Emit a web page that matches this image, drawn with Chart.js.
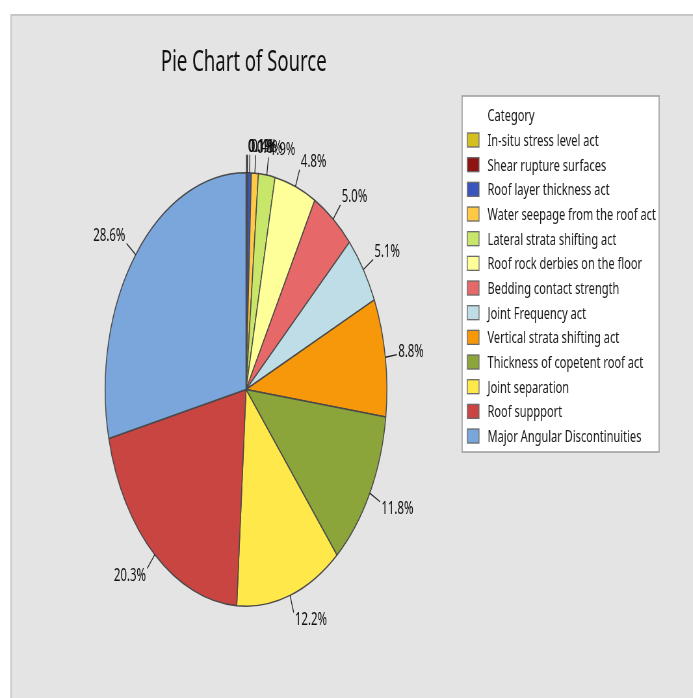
<!DOCTYPE html>
<html>
<head>
<meta charset="utf-8">
<script src="https://cdn.jsdelivr.net/npm/chart.js@4/dist/chart.umd.min.js"></script>
<style>
  html, body { margin: 0; padding: 0; background: #fff; overflow: hidden; }
  /* the reference is squeezed sideways, so draw wide and squeeze the whole box */
  #wrap { position: absolute; left: 0; top: 0; width: 1066px; height: 698px;
          transform: scaleX(0.65); transform-origin: 0 0; }
</style>
</head>
<body>
<div id="wrap"><canvas id="pie-chart"></canvas></div>
<script>
var categories = [
  'In-situ stress level act',
  'Shear rupture surfaces',
  'Roof layer thickness act',
  'Water seepage from the roof act',
  'Lateral strata shifting act',
  'Roof rock derbies on the floor',
  'Bedding contact strength',
  'Joint Frequency act',
  'Vertical strata shifting act',
  'Thickness of copetent roof act',
  'Joint separation',
  'Roof suppport',
  'Major Angular Discontinuities'
];
var percents = [0.1, 0.1, 0.4, 0.8, 1.9, 4.8, 5.0, 5.1, 8.8, 11.8, 12.2, 20.3, 28.6];
var sliceColors = ['#d4bf21', '#8e1414', '#3b55be', '#ffc845', '#c8e66a', '#ffff99',
                   '#e66868', '#bedde6', '#f7980a', '#8ca53a', '#ffe84a', '#c84542', '#7aa6db'];
var chartTitle = 'Pie Chart of Source';
var legendTitle = 'Category';

var FONT = '"Noto Sans", "DejaVu Sans", sans-serif';

// grey panel behind everything
var panelPlugin = {
  id: 'panel',
  beforeDraw: function(chart) {
    var ctx = chart.ctx;
    ctx.save();
    ctx.fillStyle = '#ffffff';
    ctx.fillRect(0, 0, chart.width, chart.height);
    ctx.fillStyle = '#e4e4e4';
    ctx.fillRect(17, 14, chart.width - 17, chart.height - 14);
    ctx.strokeStyle = '#c6c6c6';
    ctx.lineWidth = 2;
    ctx.beginPath();
    ctx.moveTo(17, chart.height);
    ctx.lineTo(17, 15);
    ctx.lineTo(chart.width, 15);
    ctx.stroke();
    ctx.restore();
  }
};

// title, slice labels with leader lines, legend box
var decorPlugin = {
  id: 'decor',
  afterDraw: function(chart) {
    var ctx = chart.ctx;
    ctx.save();

    ctx.fillStyle = '#111';
    ctx.font = '28.5px ' + FONT;
    ctx.textAlign = 'center';
    ctx.textBaseline = 'alphabetic';
    ctx.fillText(chartTitle, 375, 71);

    // slice labels
    var meta = chart.getDatasetMeta(0);
    ctx.font = '17.5px ' + FONT;
    ctx.strokeStyle = '#222';
    ctx.lineWidth = 1.3;
    meta.data.forEach(function(arc, i) {
      var p = arc.getProps(['x', 'y', 'startAngle', 'endAngle', 'outerRadius'], true);
      var mid = (p.startAngle + p.endAngle) / 2;
      var c = Math.cos(mid), s = Math.sin(mid);
      var x0 = p.x + c * p.outerRadius, y0 = p.y + s * p.outerRadius;
      var x1 = p.x + c * (p.outerRadius + 18), y1 = p.y + s * (p.outerRadius + 18);
      ctx.beginPath();
      ctx.moveTo(x0, y0);
      ctx.lineTo(x1, y1);
      ctx.stroke();
      // near the sides the text sits level with the line end, above/below it further round
      var k = Math.max(-1, Math.min(1, s * 2.5));
      ctx.textAlign = c >= 0 ? 'left' : 'right';
      ctx.textBaseline = 'middle';
      ctx.fillText(percents[i].toFixed(1) + '%', x1 + (c >= 0 ? 2 : -2), y1 + k * 7.5);
    });

    // legend
    var lx = 711, ly = 96, lw = 303, lh = 356;
    ctx.fillStyle = '#ffffff';
    ctx.fillRect(lx, ly, lw, lh);
    ctx.strokeStyle = '#9a9a9a';
    ctx.lineWidth = 1.5;
    ctx.strokeRect(lx, ly, lw, lh);

    ctx.font = '17px ' + FONT;
    ctx.textAlign = 'left';
    ctx.textBaseline = 'middle';
    ctx.fillStyle = '#1a1a1a';
    ctx.fillText(legendTitle, 750, 116);
    categories.forEach(function(name, i) {
      var cy = 140 + i * 24.67;
      ctx.fillStyle = sliceColors[i];
      ctx.fillRect(719, cy - 7, 18, 14);
      ctx.strokeStyle = '#6a6a6a';
      ctx.lineWidth = 1.3;
      ctx.strokeRect(719, cy - 7, 18, 14);
      ctx.fillStyle = '#1a1a1a';
      ctx.fillText(name, 750, cy + 1);
    });
    ctx.restore();
  }
};

new Chart(document.getElementById('pie-chart'), {
  type: 'pie',
  data: {
    labels: categories,
    datasets: [{
      data: percents,
      backgroundColor: sliceColors,
      borderColor: '#4a4a4a',
      borderWidth: 1.5,
      hoverOffset: 0
    }]
  },
  options: {
    responsive: true,
    maintainAspectRatio: false,
    animation: false,
    devicePixelRatio: 1,
    layout: {
      padding: { left: 161, right: 470, top: 172, bottom: 91 }
    },
    plugins: {
      legend: { display: false },
      title: { display: false },
      tooltip: { enabled: false }
    }
  },
  plugins: [panelPlugin, decorPlugin]
});
</script>
</body>
</html>
